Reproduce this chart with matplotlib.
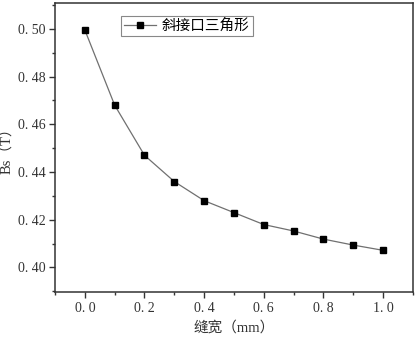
import matplotlib
matplotlib.use("Agg")
import matplotlib.pyplot as plt
from matplotlib.ticker import MultipleLocator

plt.rcParams['font.family'] = ['Liberation Serif', 'Noto Sans CJK SC', 'DejaVu Sans']

# slot width (mm) vs Bs (T)
width = [0.0, 0.1, 0.2, 0.3, 0.4, 0.5, 0.6, 0.7, 0.8, 0.9, 1.0]
bs = [0.4995, 0.468, 0.447, 0.436, 0.428, 0.423, 0.418, 0.4153, 0.4119, 0.4094, 0.4072]
series_label = "斜接口三角形"

fig = plt.figure(figsize=(4.17, 3.37), dpi=100)
ax = fig.add_axes([0.132, 0.134, 0.858, 0.857])

ax.plot(width, bs, color='#707070', lw=0.9, marker='s', ms=5,
        mfc='black', mec='black', label=series_label)

ax.set_xlim(-0.1, 1.1)
ax.set_ylim(0.3898, 0.5108)
ax.xaxis.set_major_locator(MultipleLocator(0.2))
ax.xaxis.set_minor_locator(MultipleLocator(0.1))
ax.yaxis.set_major_locator(MultipleLocator(0.02))
ax.yaxis.set_minor_locator(MultipleLocator(0.01))
ax.xaxis.set_major_formatter(plt.FuncFormatter(lambda v, p: f"{v:.1f}".replace('.', '. ')))
ax.yaxis.set_major_formatter(plt.FuncFormatter(lambda v, p: f"{v:.2f}".replace('.', '. ')))
ax.tick_params(which='major', direction='out', length=4, width=1, labelsize=10,
               pad=3, colors='#333333')
ax.tick_params(which='minor', direction='out', length=2.5, width=1, colors='#333333')
for s in ax.spines.values():
    s.set_linewidth(1.1)
    s.set_color('#333333')

ax.set_xlabel("缝宽（mm）", fontsize=10.5, color='#333333')
ax.set_ylabel("Bs（T）", fontsize=10.5, color='#333333')
ax.xaxis.set_label_coords(0.5, -0.1)
ax.yaxis.set_label_coords(-0.118, 0.5)

leg = ax.legend(loc='upper left', bbox_to_anchor=(0.185, 0.955), borderaxespad=0,
                fontsize=10.5, fancybox=False, framealpha=1, edgecolor='#888888',
                handlelength=2.2, borderpad=0.2, handletextpad=0.4)
leg.get_frame().set_linewidth(0.8)

fig.savefig("out.png", dpi=100)
